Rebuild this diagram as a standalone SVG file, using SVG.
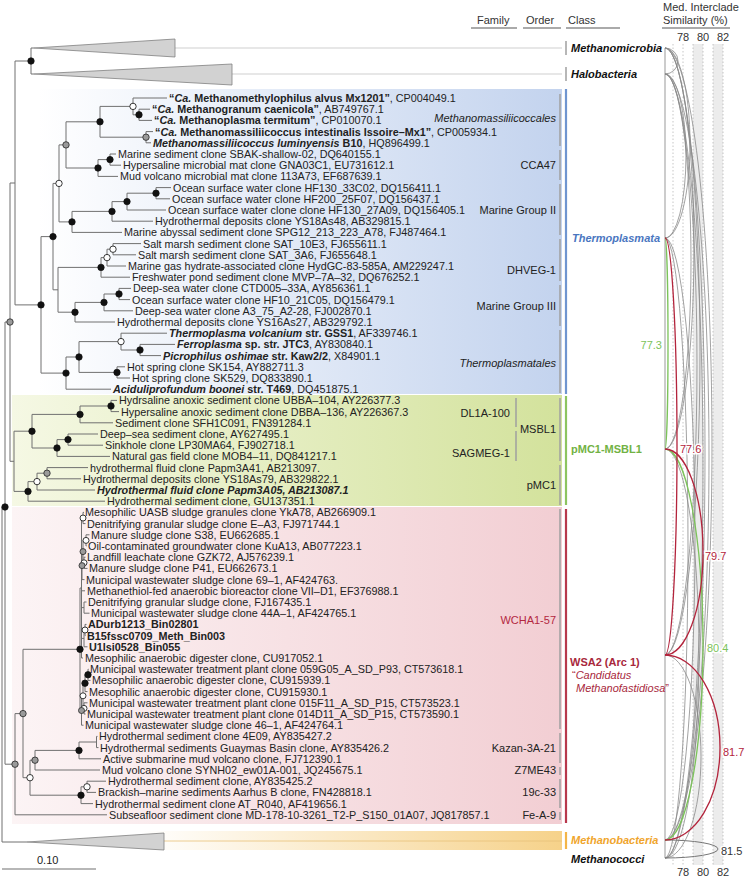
<svg xmlns="http://www.w3.org/2000/svg" width="747" height="878" viewBox="0 0 747 878">
<style>
text{font-family:"Liberation Sans",Arial,sans-serif;font-size:10.8px;fill:#222}
.b{font-weight:bold}.i{font-style:italic}
.hd{fill:#333;font-size:11px}
.br{stroke:#707070;stroke-width:1;fill:none}
.ul{stroke:#aaa;stroke-width:2}
.bar{stroke:#a0a0a0;stroke-width:1.5}
.dk{fill:#111;stroke:#111;stroke-width:.8}
.op{fill:#fff;stroke:#222;stroke-width:.9}
.gy{fill:#9a9a9a;stroke:#333;stroke-width:.9}
.tri{fill:#d2d2d2;stroke:#808080;stroke-width:.8}
.ga{stroke:#8a8a8a;stroke-width:.8;fill:none}
.ra{stroke:#b3243c;stroke-width:1.3;fill:none}
.gr{stroke:#7cc35a;stroke-width:1.3;fill:none}
.dot{stroke:#b8b8b8;stroke-width:.8;stroke-dasharray:1.5 2}
.lbl{paint-order:stroke;stroke:#fff;stroke-width:3;font-size:11px}
.ord{text-anchor:end;font-size:11px}
.cl{font-size:11px}
</style>
<defs>
<linearGradient id="gB" x1="0" x2="1" y1="0" y2="0"><stop offset="0" stop-color="#ffffff"/><stop offset="1" stop-color="#c3d3ee"/></linearGradient>
<linearGradient id="gG" x1="0" x2="1" y1="0" y2="0"><stop offset="0" stop-color="#f5f8e4"/><stop offset="1" stop-color="#d3e29c"/></linearGradient>
<linearGradient id="gP" x1="0" x2="1" y1="0" y2="0"><stop offset="0" stop-color="#fcf4f5"/><stop offset="1" stop-color="#f2ced3"/></linearGradient>
<linearGradient id="gO" x1="0" x2="1" y1="0" y2="0"><stop offset="0.25" stop-color="#ffffff"/><stop offset="1" stop-color="#f6d28a"/></linearGradient>
</defs>

<g id="bands">
<rect x="38" y="89" width="524" height="305" fill="url(#gB)"/>
<rect x="12" y="395" width="550" height="111" fill="url(#gG)"/>
<rect x="12" y="507" width="550" height="317" fill="url(#gP)"/>
<rect x="0" y="831" width="562" height="19" fill="url(#gO)"/>
</g>

<g id="header">
<text x="477" y="24" class="hd">Family</text>
<text x="526" y="24" class="hd">Order</text>
<text x="568" y="24" class="hd">Class</text>
<text x="663" y="11" class="hd">Med. Interclade</text>
<text x="663" y="24" class="hd">Similarity (%)</text>
<line x1="471" y1="28" x2="517" y2="28" class="ul"/>
<line x1="523" y1="28" x2="561" y2="28" class="ul"/>
<line x1="566" y1="28" x2="620" y2="28" class="ul"/>
<line x1="662" y1="28" x2="730" y2="28" class="ul"/>
</g>

<g id="grid">
<rect x="693" y="44" width="10" height="821" fill="#ececec"/>
<rect x="713" y="44" width="10" height="821" fill="#ececec"/>
<line x1="673" y1="44" x2="673" y2="865" class="dot"/>
<line x1="683" y1="44" x2="683" y2="865" class="dot"/>
<line x1="693" y1="44" x2="693" y2="865" class="dot"/>
<line x1="703" y1="44" x2="703" y2="865" class="dot"/>
<line x1="713" y1="44" x2="713" y2="865" class="dot"/>
<line x1="723" y1="44" x2="723" y2="865" class="dot"/>
<line x1="665" y1="48" x2="665" y2="858" stroke="#999" stroke-width="1"/>
<text x="683" y="41" text-anchor="middle" class="hd">78</text>
<text x="703" y="41" text-anchor="middle" class="hd">80</text>
<text x="723" y="41" text-anchor="middle" class="hd">82</text>
<text x="683" y="876" text-anchor="middle" class="hd">78</text>
<text x="703" y="876" text-anchor="middle" class="hd">80</text>
<text x="723" y="876" text-anchor="middle" class="hd">82</text>
</g>

<g id="connectors">
<path class="br" d="M31,48V74M31,48H34M31,74H34
M15,61V304.9M15,61H31M15,304.9H41
M41,236.6V373.1M41,236.6H53M41,373.1H66
M53,183.4V289.8M53,183.4H59M53,289.8H58
M59,144.9V221.9M59,144.9H66M59,221.9H72
M66,121.8V168M66,121.8H100M66,168H98
M100,106.4V137.2M100,106.4H133M100,137.2H146
M133,98V114.8M133,98H167M133,114.8H139
M139,109.2V120.4M139,109.2H150M139,120.4H152
M146,131.6V142.8M146,131.6H153M146,142.8H151
M98,159.6V176.4M98,159.6H110M98,176.4H118
M110,154V165.2M110,154H116M110,165.2H121
M72,211.4V232.4M72,211.4H112M72,232.4H122
M112,201.6V221.2M112,201.6H127M112,221.2H153
M127,193.2V210M127,193.2H156M127,210H166
M156,187.6V198.8M156,187.6H171M156,198.8H170
M58,267.4V312.2M58,267.4H101M58,312.2H75
M101,257.6V277.2M101,257.6H107M101,277.2H130
M107,249.2V266M107,249.2H113M107,266H126
M113,243.6V254.8M113,243.6H141M113,254.8H136
M75,302.4V322M75,302.4H104M75,322H115
M104,294V310.8M104,294H119M104,310.8H133
M119,288.4V299.6M119,288.4H131M119,299.6H130
M66,357V389.2M66,357H79M66,389.2H111
M79,341.6V372.4M79,341.6H121M79,372.4H117
M121,333.2V350M121,333.2H167M121,350H140
M140,344.4V355.6M140,344.4H175M140,355.6H161
M117,366.8V378M117,366.8H125M117,378H130
M10,183V461.3M10,183H15M10,461.3H14
M14,431.2V491.4M14,431.2H32M14,491.4H28
M32,414.4V448M32,414.4H80M32,448H57
M80,406V422.8M80,406H111M80,422.8H113
M111,400.4V411.6M111,400.4H117M111,411.6H119
M57,439.6V456.4M57,439.6H68M57,456.4H110
M68,434V445.2M68,434H98M68,445.2H103
M28,481.6V501.2M28,481.6H37M28,501.2H105
M37,473.2V490M37,473.2H47M37,490H95
M47,467.6V478.8M47,467.6H88M47,478.8H81
M5,322V764.2M5,322H10M5,764.2H15
M2,507V842M2,507H5M2,842H27
M15,713.6V814.8M15,713.6H23M15,814.8H107
M23,649.3V777.7M23,649.3H80M23,777.7H30
M30,760.2V795.2M30,760.2H35M30,795.2H81
M35,750.4V770M35,750.4H79M35,770H100
M79,742V758.8M79,742H96.5M79,758.8H101
M96.5,736.4V747.6M96.5,736.4H97.5M96.5,747.6H98.5
M81,786.8V803.6M81,786.8H87M81,803.6H93
M87,781.2V792.4M87,781.2H106M87,792.4H96
M80,588V710.5M80,588H81.5M80,710.5H81.5
M81.5,518V658M81.5,518H83M81.5,565.6H82M81.5,590.8H85M81.5,607.6H84M81.5,638.4H84M81.5,658H83
M83,512.4V523.6M83,512.4H84M83,523.6H85.5
M82,551.6V579.6M82,551.6H83M82,579.6H84.5
M83,540.4V562.8M83,540.4H86M83,562.8H84
M86,534.8V546M86,534.8H89.5M86,546H86.5
M84,557.2V568.4M84,557.2H85.5M84,568.4H87.5
M84,602V613.2M84,602H86.5M84,613.2H89.5
M84,630V646.8M84,630H85M84,646.8H87.5
M85,624.4V635.6M85,624.4H86.5M85,635.6H85.5
M81.5,695.8V725.2M81.5,695.8H83M81.5,725.2H83.5
M83,683.2V708.4M83,683.2H85M83,708.4H84
M85,674.8V691.6M85,674.8H88M85,691.6H87.5
M88,669.2V680.4M88,669.2H88.5M88,680.4H90.5
M84,702.8V714M84,702.8H87.5M84,714H85.5"/>
<line x1="175" y1="48" x2="562" y2="48" stroke="#cfcfcf" stroke-width="1"/>
<line x1="232" y1="74" x2="562" y2="74" stroke="#cfcfcf" stroke-width="1"/>
<line x1="164" y1="841" x2="562" y2="841" stroke="#e8c27a" stroke-width=".8"/>
<line x1="2" y1="869" x2="96" y2="869" stroke="#707070" stroke-width="1.2"/>
</g>

<g id="collapsed">
<polygon class="tri" points="34,48 175,39 175,57"/>
<polygon class="tri" points="34,74 232,64 232,85"/>
<polygon class="tri" points="27,842 164,833 164,850"/>
</g>

<g id="nodes">
<circle class="dk" cx="139" cy="114.8" r="3.2"/><circle class="dk" cx="100" cy="121.8" r="3.2"/>
<circle class="dk" cx="110" cy="159.6" r="3.2"/><circle class="dk" cx="98" cy="168" r="3.2"/>
<circle class="dk" cx="156" cy="193.2" r="3.2"/><circle class="dk" cx="127" cy="201.6" r="3.2"/>
<circle class="dk" cx="112" cy="211.4" r="3.2"/><circle class="dk" cx="72" cy="221.9" r="3.2"/>
<circle class="dk" cx="101" cy="267.4" r="3.2"/><circle class="dk" cx="119" cy="294" r="3.2"/>
<circle class="dk" cx="104" cy="302.4" r="3.2"/><circle class="dk" cx="75" cy="312.2" r="3.2"/>
<circle class="dk" cx="53" cy="236.6" r="3.2"/><circle class="dk" cx="140" cy="350" r="3.2"/>
<circle class="dk" cx="117" cy="372.4" r="3.2"/><circle class="dk" cx="79" cy="357" r="3.2"/>
<circle class="dk" cx="66" cy="373.1" r="3.2"/><circle class="dk" cx="41" cy="304.9" r="3.2"/>
<circle class="dk" cx="31" cy="61" r="3.2"/><circle class="dk" cx="111" cy="406" r="3.2"/>
<circle class="dk" cx="80" cy="414.4" r="3.2"/><circle class="dk" cx="68" cy="439.6" r="3.2"/>
<circle class="dk" cx="57" cy="448" r="3.2"/><circle class="dk" cx="32" cy="431.2" r="3.2"/>
<circle class="dk" cx="28" cy="491.4" r="3.2"/><circle class="dk" cx="5" cy="507" r="3.2"/>
<circle class="dk" cx="80" cy="649.3" r="3.2"/><circle class="dk" cx="88" cy="674.8" r="3.2"/>
<circle class="dk" cx="85" cy="683.2" r="3.2"/><circle class="dk" cx="79" cy="750.4" r="3.2"/>
<circle class="dk" cx="81" cy="795.2" r="3.2"/>
<circle class="op" cx="133" cy="106.4" r="3.2"/><circle class="op" cx="59" cy="183.4" r="3.2"/>
<circle class="op" cx="113" cy="249.2" r="3.2"/><circle class="op" cx="107" cy="257.6" r="3.2"/>
<circle class="op" cx="121" cy="341.6" r="3.2"/><circle class="op" cx="37" cy="481.6" r="3.2"/>
<circle class="op" cx="83" cy="518" r="3"/><circle class="op" cx="86" cy="540.4" r="3"/>
<circle class="op" cx="84" cy="562.8" r="3"/><circle class="op" cx="85" cy="630" r="3"/>
<circle class="op" cx="84" cy="708.4" r="3"/><circle class="op" cx="83" cy="695.8" r="3"/>
<circle class="op" cx="30" cy="777.7" r="3.2"/><circle class="op" cx="87" cy="786.8" r="3.2"/>
<circle class="gy" cx="146" cy="137.2" r="3.2"/><circle class="gy" cx="66" cy="144.9" r="3.2"/>
<circle class="gy" cx="10" cy="322" r="3.2"/><circle class="gy" cx="47" cy="473.2" r="3.2"/>
<circle class="gy" cx="83" cy="551.6" r="3"/><circle class="gy" cx="82" cy="565.6" r="3"/>
<circle class="gy" cx="81.5" cy="710.5" r="3"/><circle class="gy" cx="35" cy="760.2" r="3.2"/>
<circle class="gy" cx="23" cy="713.6" r="3.2"/><circle class="gy" cx="15" cy="764.2" r="3.2"/>
</g>

<g id="leaves">
<text x="169" y="102"><tspan class="b">“<tspan class="i">Ca.</tspan> Methanomethylophilus alvus Mx1201”</tspan>, CP004049.1</text>
<text x="152" y="113.2"><tspan class="b">“<tspan class="i">Ca.</tspan> Methanogranum caenicola”</tspan>, AB749767.1</text>
<text x="154" y="124.4"><tspan class="b">“<tspan class="i">Ca.</tspan> Methanoplasma termitum”</tspan>, CP010070.1</text>
<text x="155" y="135.6"><tspan class="b">“<tspan class="i">Ca.</tspan> Methanomassiliicoccus intestinalis Issoire–Mx1”</tspan>, CP005934.1</text>
<text x="153" y="146.8"><tspan class="b i">Methanomassiliicoccus luminyensis</tspan><tspan class="b"> B10</tspan>, HQ896499.1</text>
<text x="118" y="158">Marine sediment clone SBAK-shallow-02, DQ640155.1</text>
<text x="123" y="169.2">Hypersaline microbial mat clone GNA03C1, EU731612.1</text>
<text x="120" y="180.4">Mud volcano microbial mat clone 113A73, EF687639.1</text>
<text x="173" y="191.6">Ocean surface water clone HF130_33C02, DQ156411.1</text>
<text x="172" y="202.8">Ocean surface water clone HF200_25F07, DQ156437.1</text>
<text x="168" y="214">Ocean surface water clone clone HF130_27A09, DQ156405.1</text>
<text x="155" y="225.2">Hydrothermal deposits clone YS18As48, AB329815.1</text>
<text x="124" y="236.4">Marine abyssal sediment clone SPG12_213_223_A78, FJ487464.1</text>
<text x="143" y="247.6">Salt marsh sediment clone SAT_10E3, FJ655611.1</text>
<text x="138" y="258.8">Salt marsh sediment clone SAT_3A6, FJ655648.1</text>
<text x="128" y="270">Marine gas hydrate-associated clone HydGC-83-585A, AM229247.1</text>
<text x="132" y="281.2">Freshwater pond sediment clone MVP–7A–32, DQ676252.1</text>
<text x="133" y="292.4">Deep-sea water clone CTD005–33A, AY856361.1</text>
<text x="132" y="303.6">Ocean surface water clone HF10_21C05, DQ156479.1</text>
<text x="135" y="314.8">Deep-sea water clone A3_75_A2-28, FJ002870.1</text>
<text x="117" y="326">Hydrothermal deposits clone YS16As27, AB329792.1</text>
<text x="169" y="337.2"><tspan class="b i">Thermoplasma volcanium</tspan><tspan class="b"> str. GSS1</tspan>, AF339746.1</text>
<text x="177" y="348.4"><tspan class="b i">Ferroplasma</tspan><tspan class="b"> sp. str. JTC3</tspan>, AY830840.1</text>
<text x="163" y="359.6"><tspan class="b i">Picrophilus oshimae</tspan><tspan class="b"> str. Kaw2/2</tspan>, X84901.1</text>
<text x="127" y="370.8">Hot spring clone SK154, AY882711.3</text>
<text x="132" y="382">Hot spring clone SK529, DQ833890.1</text>
<text x="113" y="393.2"><tspan class="b i">Aciduliprofundum boonei</tspan><tspan class="b"> str. T469</tspan>, DQ451875.1</text>
<text x="119" y="404.4">Hydrsaline anoxic sediment clone UBBA–104, AY226377.3</text>
<text x="121" y="415.6">Hypersaline anoxic sediment clone DBBA–136, AY226367.3</text>
<text x="115" y="426.8">Sediment clone SFH1C091, FN391284.1</text>
<text x="100" y="438">Deep–sea sediment clone, AY627495.1</text>
<text x="105" y="449.2">Sinkhole clone LP30MA64, FJ902718.1</text>
<text x="112" y="460.4">Natural gas field clone MOB4–11, DQ841217.1</text>
<text x="90" y="471.6">hydrothermal fluid clone Papm3A41, AB213097.</text>
<text x="83" y="482.8">Hydrothermal deposits clone YS18As79, AB329822.1</text>
<text x="97" y="494" class="b i">Hydrothermal fluid clone Papm3A05, AB213087.1</text>
<text x="107" y="505.2">Hydrothermal sediment clone, GU137351.1</text>
<text x="85" y="516.4">Mesophilic UASB sludge granules clone YkA78, AB266909.1</text>
<text x="87" y="527.6">Denitrifying granular sludge clone E–A3, FJ971744.1</text>
<text x="91" y="538.8">Manure sludge clone S38, EU662685.1</text>
<text x="88" y="550">Oil-contaminated groundwater clone KuA13, AB077223.1</text>
<text x="87" y="561.2">Landfill leachate clone GZK72, AJ576239.1</text>
<text x="89" y="572.4">Manure sludge clone P41, EU662673.1</text>
<text x="86" y="583.6">Municipal wastewater sludge clone 69–1, AF424763.</text>
<text x="87" y="594.8">Methanethiol-fed anaerobic bioreactor clone VII–D1, EF376988.1</text>
<text x="88" y="606">Denitrifying granular sludge clone, FJ167435.1</text>
<text x="91" y="617.2">Municipal wastewater sludge clone 44A–1, AF424765.1</text>
<text x="88" y="628.4" class="b">ADurb1213_Bin02801</text>
<text x="87" y="639.6" class="b">B15fssc0709_Meth_Bin003</text>
<text x="89" y="650.8" class="b">U1lsi0528_Bin055</text>
<text x="85" y="662">Mesophilic anaerobic digester clone, CU917052.1</text>
<text x="90" y="673.2">Municipal wastewater treatment plant clone 059G05_A_SD_P93, CT573618.1</text>
<text x="92" y="684.4">Mesophilic anaerobic digester clone, CU915939.1</text>
<text x="89" y="695.6">Mesophilic anaerobic digester clone, CU915930.1</text>
<text x="89" y="706.8">Municipal wastewater treatment plant clone 015F11_A_SD_P15, CT573523.1</text>
<text x="87" y="718">Municipal wastewater treatment plant clone 014D11_A_SD_P15, CT573590.1</text>
<text x="85" y="729.2">Municipal wastewater sludge clone 46–1, AF424764.1</text>
<text x="99" y="740.4">Hydrothermal sediment clone 4E09, AY835427.2</text>
<text x="100" y="751.6">Hydrothermal sediments Guaymas Basin clone, AY835426.2</text>
<text x="103" y="762.8">Active submarine mud volcano clone, FJ712390.1</text>
<text x="102" y="774">Mud volcano clone SYNH02_ew01A-001, JQ245675.1</text>
<text x="108" y="785.2">Hydrothermal sediment clone, AY835425.2</text>
<text x="98" y="796.4">Brackish–marine sediments Aarhus B clone, FN428818.1</text>
<text x="95" y="807.6">Hydrothermal sediment clone AT_R040, AF419656.1</text>
<text x="109" y="818.8">Subseafloor sediment clone MD-178-10-3261_T2-P_S150_01A07, JQ817857.1</text>
<text x="37" y="864" class="cl">0.10</text>
</g>

<g id="groups">
<text x="556" y="122" class="ord i">Methanomassiliicoccales</text>
<text x="556" y="169" class="ord">CCA47</text>
<text x="556" y="214" class="ord">Marine Group II</text>
<text x="556" y="274" class="ord">DHVEG-1</text>
<text x="556" y="310" class="ord">Marine Group III</text>
<text x="556" y="367" class="ord i">Thermoplasmatales</text>
<text x="510" y="417" class="ord">DL1A-100</text>
<text x="510" y="457" class="ord">SAGMEG-1</text>
<text x="556" y="433" class="ord">MSBL1</text>
<text x="556" y="489" class="ord">pMC1</text>
<text x="556" y="624" class="ord" style="fill:#b3283f">WCHA1-57</text>
<text x="556" y="751.6" class="ord">Kazan-3A-21</text>
<text x="556" y="774" class="ord">Z7ME43</text>
<text x="556" y="796.4" class="ord">19c-33</text>
<text x="556" y="818.8" class="ord">Fe-A-9</text>
<path class="bar" d="M560,94V146M560,150V180M560,184V235M560,239V281M560,285V326M560,330V393M516,398V427M516,431V461M560,398V461M560,465V505M560,509V729M560,733V763M560,767V775M560,779V808M560,812V820"/>
<path stroke="#a0a0a0" stroke-width="1.5" d="M566,41V55M566,67V81"/>
<path stroke="#6f95d0" stroke-width="2.2" d="M566,89V394"/>
<path stroke="#8cc460" stroke-width="2.2" d="M566,396V505"/>
<path stroke="#b8384c" stroke-width="2.2" d="M566,509V823"/>
<path stroke="#f3b548" stroke-width="2.2" d="M566,832V849"/>
</g>

<g id="classes">
<text x="571" y="52" class="b i cl" style="fill:#111">Methanomicrobia</text>
<text x="571" y="78" class="b i cl" style="fill:#111">Halobacteria</text>
<text x="572" y="242" class="b i cl" style="fill:#4a76bf">Thermoplasmata</text>
<text x="571" y="453" class="b cl" style="fill:#72b244">pMC1-MSBL1</text>
<text x="570" y="666" class="b cl" style="fill:#a8283c">WSA2 (Arc 1)</text>
<text x="572" y="679" class="cl" style="fill:#a8283c">“<tspan class="i">Candidatus</tspan></text>
<text x="576" y="692" class="cl" style="fill:#a8283c"><tspan class="i">Methanofastidiosa</tspan>”</text>
<text x="571" y="844" class="b i cl" style="fill:#f0a52c">Methanobacteria</text>
<text x="571" y="863" class="b i cl" style="fill:#111">Methanococci</text>
</g>

<g id="similarity">
<path class="ga" d="M665,48A13,13 0 0 1 665,74
M665,48A25,95 0 0 1 665,238
M665,74A21,82 0 0 1 665,238
M665,48A29,200.5 0 0 1 665,449
M665,74A26,187.5 0 0 1 665,449
M665,48A35,303.5 0 0 1 665,655
M665,74A32,290.5 0 0 1 665,655
M665,48A47,396 0 0 1 665,840
M665,74A44,383 0 0 1 665,840
M665,48A40,405 0 0 1 665,858
M665,74A38,392 0 0 1 665,858
M665,238A30,301 0 0 1 665,840
M665,238A23,310 0 0 1 665,858
M665,449A34,204.5 0 0 1 665,858
M665,655A36,101.5 0 0 1 665,858"/>
<path d="M665,840A53,9 0 0 1 665,858" stroke="#777" stroke-width="1" fill="none"/>
<path class="gr" d="M665,238A3,105.5 0 0 1 665,449"/>
<path class="gr" d="M665,449A38,195.5 0 0 1 665,840"/>
<path class="ra" d="M665,238A12,208.5 0 0 1 665,655"/>
<path class="ra" d="M665,449A38,103 0 0 1 665,655"/>
<path class="ra" d="M665,655A55,92.5 0 0 1 665,840"/>
<text x="662" y="349" text-anchor="end" class="lbl" style="fill:#7cc35a">77.3</text>
<text x="680" y="453" class="lbl" style="fill:#b3243c">77.6</text>
<text x="705" y="560" class="lbl" style="fill:#b3243c">79.7</text>
<text x="707" y="652" class="lbl" style="fill:#7cc35a">80.4</text>
<text x="723" y="756" class="lbl" style="fill:#b3243c">81.7</text>
<text x="721" y="855" class="lbl" style="fill:#333">81.5</text>
</g>
</svg>
